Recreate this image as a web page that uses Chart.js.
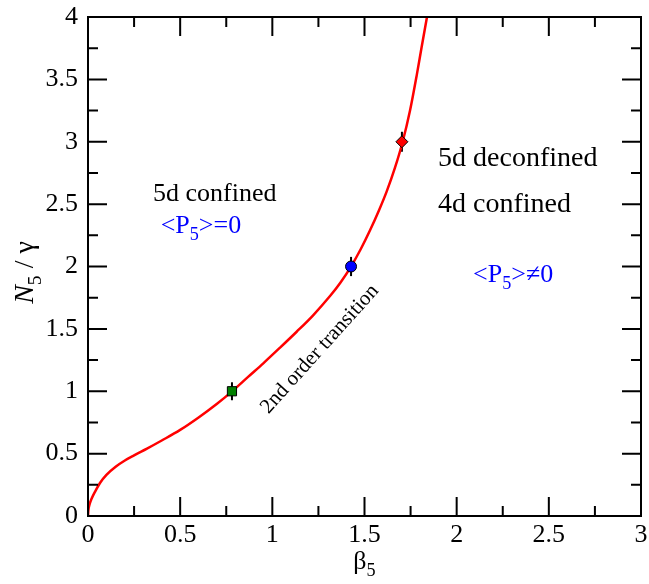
<!DOCTYPE html>
<html><head><meta charset="utf-8">
<script src="https://cdn.jsdelivr.net/npm/chart.js@4"></script>
<style>html,body{margin:0;padding:0;background:#fff}#wrap{width:649px;height:584px}</style>
</head><body><div id="wrap"><canvas id="c" width="649" height="584"></canvas></div>
<script>
// ---- data ----
const curveX = [0, 0.002, 0.008, 0.02, 0.04, 0.065, 0.1, 0.15, 0.2, 0.25, 0.32, 0.4, 0.5, 0.6, 0.7, 0.78, 0.87, 0.951, 1.04, 1.132, 1.22, 1.313, 1.37, 1.425, 1.48, 1.53, 1.58, 1.62, 1.665, 1.707, 1.747, 1.783, 1.81, 1.839];
const curveY = [0, 0.045, 0.09, 0.14, 0.2, 0.265, 0.33, 0.395, 0.445, 0.486, 0.54, 0.605, 0.69, 0.79, 0.9, 0.997, 1.117, 1.224, 1.347, 1.477, 1.607, 1.763, 1.872, 1.995, 2.14, 2.29, 2.455, 2.6, 2.79, 3.0, 3.25, 3.53, 3.76, 4.0];
const pointX = [0.781, 1.427, 1.703];
const pointY = [1.0, 2.0, 3.0];
const pointErr = [0.072, 0.077, 0.08];
const xTicks = [0, 0.5, 1, 1.5, 2, 2.5, 3];
const yTicks = [0, 0.5, 1, 1.5, 2, 2.5, 3, 3.5, 4];
const labelTexts = ['5d confined', '<P|5|>=0', '5d deconfined', '4d confined', '<P|5|>\u22600', '2nd order transition'];

// ---- presentation ----
const FONT = '"Liberation Serif", "Times New Roman", serif';
const annot = [
  {i:0, x:0.353, y:2.527, size:26, color:'#000', rot:0},
  {i:1, x:0.394, y:2.269, size:26, color:'#0000ff', rot:0},
  {i:2, x:1.899, y:2.806, size:28, color:'#000', rot:0},
  {i:3, x:1.899, y:2.439, size:28, color:'#000', rot:0},
  {i:4, x:2.089, y:1.878, size:26, color:'#0000ff', rot:0},
  {i:5, x:1.252, y:1.345, size:21, color:'#000', rot:-48, center:true}
];

function segsOf(str){
  const parts = str.split('|');
  return parts.map((t,k)=>({t, sub: k%2===1}));
}
function segWidth(ctx, segs, size){
  let w=0;
  for(const s of segs){
    ctx.font = (s.italic?'italic ':'') + (s.sub?size*0.7:size)+'px '+FONT;
    w += ctx.measureText(s.t).width;
  }
  return w;
}
function drawSegs(ctx, segs, x, y, size, color){
  ctx.fillStyle = color; ctx.textBaseline='alphabetic'; ctx.textAlign='left';
  let cx=x;
  for(const s of segs){
    const fs = s.sub?size*0.7:size;
    ctx.font = (s.italic?'italic ':'') + fs+'px '+FONT;
    ctx.fillText(s.t, cx, y + (s.sub? size*0.28:0));
    cx += ctx.measureText(s.t).width;
  }
}

const deco = {
  id:'deco',
  beforeDatasetsDraw(chart){
    const ctx=chart.ctx, xs=chart.scales.x, ys=chart.scales.y;
    ctx.save();
    ctx.strokeStyle='#000'; ctx.lineWidth=2;
    for(let k=0;k<pointX.length;k++){
      const px=xs.getPixelForValue(pointX[k]);
      ctx.beginPath();
      ctx.moveTo(px, ys.getPixelForValue(pointY[k]-pointErr[k]));
      ctx.lineTo(px, ys.getPixelForValue(pointY[k]+pointErr[k]));
      ctx.stroke();
    }
    ctx.restore();
  },
  afterDraw(chart){
    const ctx=chart.ctx, xs=chart.scales.x, ys=chart.scales.y, a=chart.chartArea;
    ctx.save();
    ctx.strokeStyle='#000'; ctx.lineWidth=2;
    ctx.strokeRect(a.left, a.top, a.right-a.left, a.bottom-a.top);
    for(let v=xs.min; v<=xs.max+1e-9; v+=0.25){
      const major = Math.abs(v*2-Math.round(v*2))<1e-6;
      const L = major?19:10, p=xs.getPixelForValue(v);
      ctx.beginPath();
      ctx.moveTo(p,a.bottom); ctx.lineTo(p,a.bottom-L);
      ctx.moveTo(p,a.top); ctx.lineTo(p,a.top+L);
      ctx.stroke();
    }
    for(let v=ys.min; v<=ys.max+1e-9; v+=0.25){
      const major = Math.abs(v*2-Math.round(v*2))<1e-6;
      const L = major?19:10, p=ys.getPixelForValue(v);
      ctx.beginPath();
      ctx.moveTo(a.left,p); ctx.lineTo(a.left+L,p);
      ctx.moveTo(a.right,p); ctx.lineTo(a.right-L,p);
      ctx.stroke();
    }
    for(const an of annot){
      const segs = segsOf(labelTexts[an.i]);
      const px=xs.getPixelForValue(an.x), py=ys.getPixelForValue(an.y);
      if(an.rot){
        ctx.save(); ctx.translate(px,py); ctx.rotate(an.rot*Math.PI/180);
        const w=segWidth(ctx,segs,an.size);
        drawSegs(ctx,segs,-w/2,an.size*0.33,an.size,an.color);
        ctx.restore();
      } else {
        drawSegs(ctx,segs,px,py,an.size,an.color);
      }
    }
    const xt=[{t:'\u03B2'},{t:'5',sub:true}];
    const wx=segWidth(ctx,xt,26);
    drawSegs(ctx,xt,(a.left+a.right)/2-wx/2,569,26,'#000');
    const yt=[{t:'N',italic:true},{t:'5',sub:true},{t:' / \u03B3'}];
    ctx.save(); ctx.translate(33,(a.top+a.bottom)/2+6); ctx.rotate(-Math.PI/2);
    const wy=segWidth(ctx,yt,28);
    drawSegs(ctx,yt,-wy/2,0,28,'#000');
    ctx.restore();
    ctx.restore();
  }
};

const curve = curveX.map((x,k)=>({x, y:curveY[k]}));
const mk = k=>[{x:pointX[k], y:pointY[k]}];
const fmt = v => String(+(+v).toFixed(2));

new Chart(document.getElementById('c'), {
  type:'scatter',
  data:{datasets:[
    {data:curve, showLine:true, borderColor:'#ff0000', borderWidth:2.5, pointRadius:0, cubicInterpolationMode:'monotone', order:3},
    {data:mk(0), pointStyle:'rect', pointRadius:6.5, backgroundColor:'#008000', borderColor:'#000', borderWidth:1, order:1},
    {data:mk(1), pointStyle:'circle', pointRadius:5.5, backgroundColor:'#0000ff', borderColor:'#000', borderWidth:1, order:1},
    {data:mk(2), pointStyle:'rectRot', pointRadius:6, backgroundColor:'#ff0000', borderColor:'#000', borderWidth:1, order:1}
  ]},
  options:{
    responsive:false, animation:false, devicePixelRatio:1,
    layout:{padding:{top:17, right:8, left:0, bottom:0}},
    plugins:{legend:{display:false}, tooltip:{enabled:false}},
    scales:{
      x:{type:'linear', min:0, max:3,
        afterBuildTicks(s){ s.ticks = xTicks.map(v=>({value:v})); },
        afterFit(s){ s.height=68; s.paddingLeft=0; s.paddingRight=0; },
        grid:{display:false, drawTicks:false}, border:{display:false},
        ticks:{color:'#000', font:{family:FONT, size:26}, padding:4, maxRotation:0, autoSkip:false, callback:fmt}},
      y:{type:'linear', min:0, max:4,
        afterBuildTicks(s){ s.ticks = yTicks.map(v=>({value:v})); },
        afterFit(s){ s.width=88; s.paddingTop=0; s.paddingBottom=0; },
        grid:{display:false, drawTicks:false}, border:{display:false},
        ticks:{color:'#000', font:{family:FONT, size:26}, padding:10, autoSkip:false, callback:fmt}}
    }
  },
  plugins:[deco]
});
</script></body></html>
